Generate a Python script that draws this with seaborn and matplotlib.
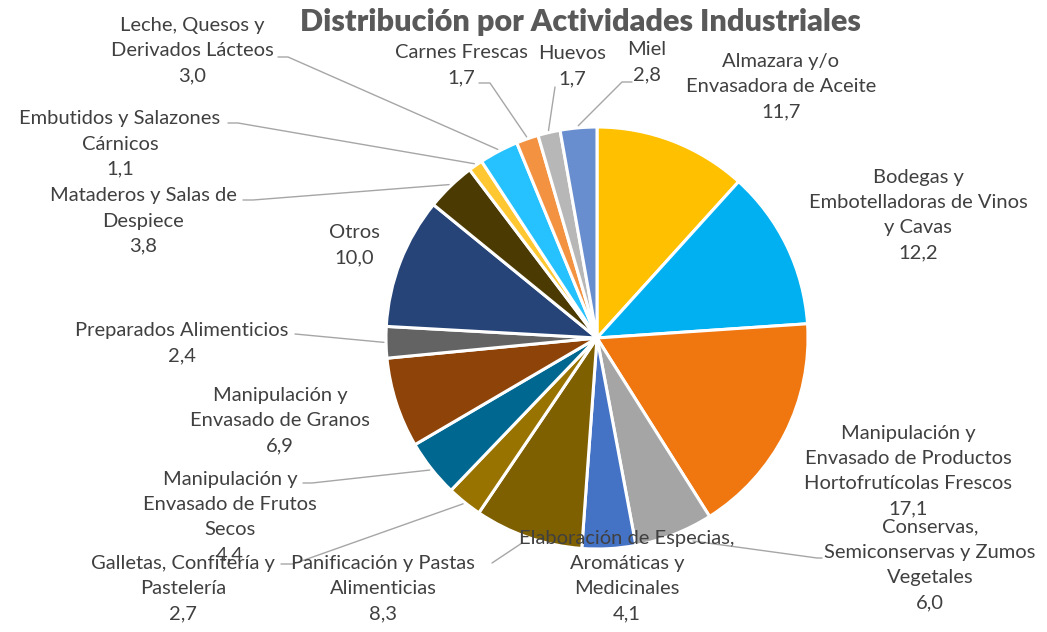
import numpy as np
import matplotlib
matplotlib.use("Agg")
import matplotlib.pyplot as plt
import seaborn as sns

# ---------------- data ----------------
categories = [
    "Almazara y/o\nEnvasadora de Aceite",
    "Bodegas y\nEmbotelladoras de Vinos\ny Cavas",
    "Manipulación y\nEnvasado de Productos\nHortofrutícolas Frescos",
    "Conservas,\nSemiconservas y Zumos\nVegetales",
    "Elaboración de Especias,\nAromáticas y\nMedicinales",
    "Panificación y Pastas\nAlimenticias",
    "Galletas, Confitería y\nPastelería",
    "Manipulación y\nEnvasado de Frutos\nSecos",
    "Manipulación y\nEnvasado de Granos",
    "Preparados Alimenticios",
    "Otros",
    "Mataderos y Salas de\nDespiece",
    "Embutidos y Salazones\nCárnicos",
    "Leche, Quesos y\nDerivados Lácteos",
    "Carnes Frescas",
    "Huevos",
    "Miel",
]
values = [11.7, 12.2, 17.1, 6.0, 4.1, 8.3, 2.7, 4.4, 6.9, 2.4, 10.0, 3.8, 1.1, 3.0, 1.7, 1.7, 2.8]
colors = ["#FFC000", "#00B0F0", "#F07610", "#A5A5A5", "#4472C4", "#7F6000",
          "#997300", "#006890", "#8E4308", "#636363", "#264478", "#4B3A02",
          "#FFC832", "#26C1FF", "#F39342", "#B7B7B7", "#698ED0"]
title = "Distribución por Actividades Industriales"

# ---------------- layout (pixels) ----------------
W, H = 1047, 632
center = (597, 338)
radius = 211
# label block centres
label_pos = [(781, 87), (918, 215), (908, 471), (930, 565), (627, 576),
             (383, 589), (183, 589), (230, 517), (280, 421), (182, 343),
             (354, 245), (143, 221), (120, 144), (192, 51), (461, 65),
             (572, 66), (647, 62)]
# leader lines: label-side anchor points (None = no leader)
leaders = [None, None, None, [(822, 558), (817, 558)], None,
           [(492, 563)], [(281, 564), (293, 564)], [(303, 483), (312, 483)],
           None, [(295, 334)], None, [(243, 200), (253, 200)],
           [(228, 123), (238, 123)], [(278, 57), (288, 57)],
           [(479, 83), (490, 83)], [(555, 87)], [(632, 82), (622, 82)]]
# explicit slice-side endpoints for a couple of labels whose line is not radial
slice_end = {3: (693, 541), 5: (522, 543)}

sns.set_theme(style="white")
plt.rcParams["font.family"] = ["Lato", "DejaVu Sans"]

fig = plt.figure(figsize=(W / 100, H / 100), dpi=100)
ax = fig.add_axes([0, 0, 1, 1])

wedges, _ = ax.pie(values, colors=colors, startangle=-90, counterclock=True,
                   center=center, radius=radius,
                   wedgeprops=dict(edgecolor="white", linewidth=2.2))
ax.set_xlim(0, W)
ax.set_ylim(H, 0)
ax.set_aspect("auto")
ax.axis("off")

txt_color = "#404040"
line_color = "#A6A6A6"
for i, (cat, v) in enumerate(zip(categories, values)):
    lx, ly = label_pos[i]
    ax.text(lx, ly, f"{cat}\n{v:.1f}".replace(".", ","), ha="center", va="center",
            fontsize=14.5, color=txt_color, linespacing=1.58, zorder=5)
    if leaders[i] is not None:
        w = wedges[i]
        ang = np.deg2rad((w.theta1 + w.theta2) / 2)
        if i in slice_end:
            ex, ey = slice_end[i]
        else:
            ex = center[0] + radius * 1.01 * np.cos(ang)
            ey = center[1] + radius * 1.01 * np.sin(ang)
        pts = leaders[i] + [(ex, ey)]
        xs = [p[0] for p in pts]
        ys = [p[1] for p in pts]
        ax.plot(xs, ys, color=line_color, lw=1.0, zorder=3)

ax.text(580, 22, title, ha="center", va="center", fontsize=22,
        fontweight="heavy", color="#595959")

fig.savefig("out.png", dpi=100)
